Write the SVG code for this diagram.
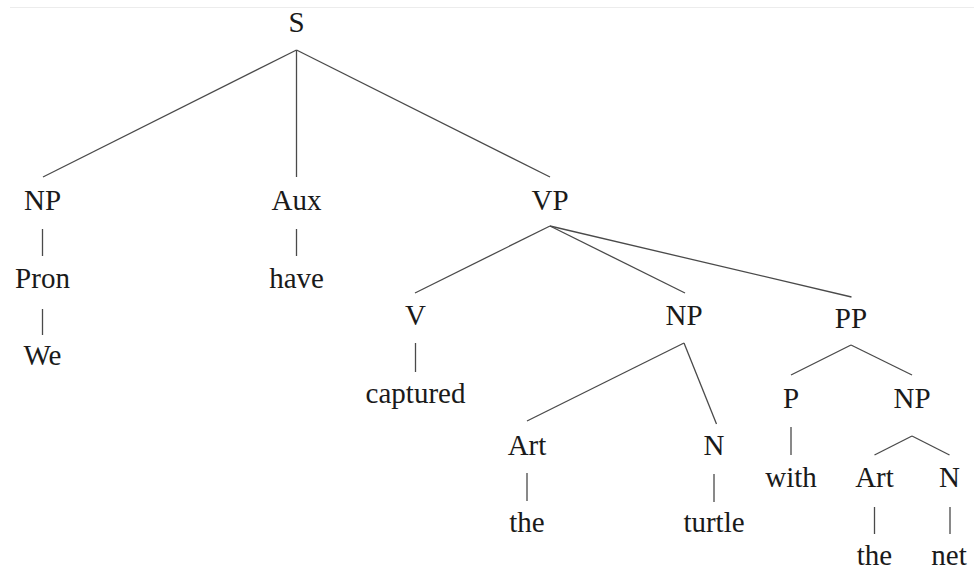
<svg xmlns="http://www.w3.org/2000/svg" width="974" height="573" viewBox="0 0 974 573">
<style>
text{font-size:29px;fill:#1a1a1a;text-anchor:middle}
.e line{stroke:#4a4a4a;stroke-width:1.3}
</style>
<rect width="974" height="573" fill="#fff"/>
<line x1="10" y1="7.5" x2="974" y2="7.5" stroke="#ececec" stroke-width="1"/>
<g class="e" id="connectors">
<line x1="296.5" y1="50" x2="43" y2="177"/>
<line x1="296.5" y1="50" x2="296.5" y2="177"/>
<line x1="296.5" y1="50" x2="550" y2="177"/>
<line x1="42.5" y1="229" x2="42.5" y2="256"/>
<line x1="42.5" y1="309" x2="42.5" y2="335"/>
<line x1="296.5" y1="229" x2="296.5" y2="256"/>
<line x1="550" y1="226" x2="415" y2="293"/>
<line x1="550" y1="226" x2="685" y2="293"/>
<line x1="550" y1="226" x2="851.5" y2="297"/>
<line x1="415.5" y1="343" x2="415.5" y2="372"/>
<line x1="684" y1="343" x2="527" y2="421"/>
<line x1="684" y1="343" x2="716.5" y2="424"/>
<line x1="527" y1="473" x2="527" y2="501"/>
<line x1="714" y1="474" x2="714" y2="502"/>
<line x1="851" y1="345" x2="791" y2="375"/>
<line x1="851" y1="345" x2="912" y2="375"/>
<line x1="791" y1="427" x2="791" y2="455"/>
<line x1="912" y1="436" x2="874.5" y2="455"/>
<line x1="912" y1="436" x2="949.5" y2="455"/>
<line x1="874.5" y1="507" x2="874.5" y2="534"/>
<line x1="950" y1="507" x2="950" y2="534"/>
</g>
<g font-family="Liberation Serif, DejaVu Serif, serif">
<g id="n-S"><text x="296.5" y="32">S</text></g>
<g id="n-NP1"><text x="42.5" y="210">NP</text></g>
<g id="n-Aux"><text x="296.5" y="210">Aux</text></g>
<g id="n-VP"><text x="550" y="210">VP</text></g>
<g id="n-Pron"><text x="42.5" y="288">Pron</text></g>
<g id="n-have"><text x="296.5" y="288">have</text></g>
<g id="n-We"><text x="42.5" y="365">We</text></g>
<g id="n-V"><text x="415.5" y="325">V</text></g>
<g id="n-NP2"><text x="684" y="325">NP</text></g>
<g id="n-PP"><text x="851" y="328">PP</text></g>
<g id="n-captured"><text x="415.5" y="403">captured</text></g>
<g id="n-Art1"><text x="527" y="455">Art</text></g>
<g id="n-N1"><text x="714" y="455">N</text></g>
<g id="n-the1"><text x="527" y="532">the</text></g>
<g id="n-turtle"><text x="714" y="532">turtle</text></g>
<g id="n-P"><text x="791" y="408">P</text></g>
<g id="n-NP3"><text x="912" y="408">NP</text></g>
<g id="n-with"><text x="791" y="487">with</text></g>
<g id="n-Art2"><text x="874.5" y="487">Art</text></g>
<g id="n-N2"><text x="949.5" y="487">N</text></g>
<g id="n-the2"><text x="874.5" y="565">the</text></g>
<g id="n-net"><text x="949" y="565">net</text></g>
</g>
</svg>
